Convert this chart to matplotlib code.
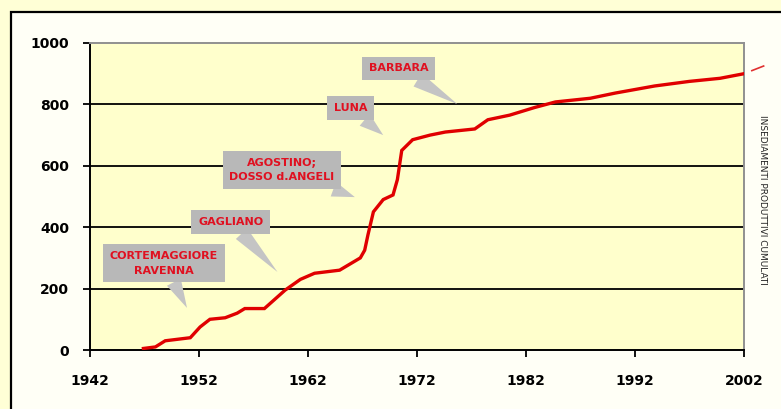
import matplotlib
matplotlib.use("Agg")
import matplotlib.pyplot as plt
from matplotlib.patches import Rectangle

# ---- data ----
years = [1946.9, 1948.0, 1948.9, 1951.2, 1952.1, 1953.0, 1954.4, 1955.5, 1956.2,
         1958.0, 1959.9, 1961.3, 1962.6, 1964.9, 1966.8, 1967.2, 1967.5, 1968.0,
         1968.9, 1969.8, 1970.2, 1970.6, 1971.6, 1973.2, 1974.6, 1977.3, 1978.5,
         1980.5, 1982.8, 1984.7, 1987.9, 1990.2, 1993.8, 1997.0, 1999.8, 2002.0]
values = [5, 10, 30, 40, 75, 100, 105, 120, 135,
          135, 195, 230, 250, 260, 300, 325, 375, 450,
          490, 505, 555, 650, 685, 700, 710, 720, 750,
          765, 790, 808, 820, 837, 860, 875, 885, 900]

x_ticks = [1942, 1952, 1962, 1972, 1982, 1992, 2002]
y_ticks = [0, 200, 400, 600, 800, 1000]

callout_labels = ["CORTEMAGGIORE\nRAVENNA", "GAGLIANO", "AGOSTINO;\nDOSSO d.ANGELI",
                  "LUNA", "BARBARA"]
# layout: (text centre, pointer tip) in data units
callout_text_pos = [(1948.8, 283), (1954.9, 417), (1959.6, 586), (1965.9, 788), (1970.3, 918)]
callout_tip_pos = [(1950.9, 137), (1959.2, 254), (1966.3, 498), (1968.9, 700), (1975.7, 801)]

side_label = "INSEDIAMENTI PRODUTTIVI CUMULATI"

W, H = 781, 409
fig = plt.figure(figsize=(W / 100, H / 100), dpi=100)
fig.patch.set_facecolor("#FFFFD6")

border = Rectangle((11 / W, -0.1), 1.2, (H - 12) / H + 0.1, transform=fig.transFigure,
                   facecolor="#FFFFF6", edgecolor="black", linewidth=1.6, zorder=-10)
fig.add_artist(border)

ax = fig.add_axes([90 / W, (H - 350) / H, 654 / W, 307 / H])
ax.set_zorder(1)
ax.set_facecolor("#FFFFCC")
ax.set_xlim(1942, 2002)
ax.set_ylim(0, 1000)

for v in y_ticks[1:-1]:
    ax.axhline(v, color="black", lw=1.3, zorder=1)

ax.plot(years, values, color="#E00000", lw=2.4, zorder=3, solid_joinstyle="miter")

ax.set_xticks(x_ticks)
ax.set_yticks(y_ticks)
tick_font = dict(family="DejaVu Sans", weight="bold", size=10)
ax.set_xticklabels([str(t) for t in x_ticks], **tick_font)
ax.set_yticklabels([str(t) for t in y_ticks], **tick_font)
ax.tick_params(axis="both", direction="out", length=5, width=1.3, colors="black")
ax.tick_params(axis="y", pad=10)
ax.tick_params(axis="x", pad=12)

for s in ["left", "bottom"]:
    ax.spines[s].set_color("black")
    ax.spines[s].set_linewidth(1.4)
for s in ["top", "right"]:
    ax.spines[s].set_color("#909090")
    ax.spines[s].set_linewidth(1.4)

for lab, tp, tip in zip(callout_labels, callout_text_pos, callout_tip_pos):
    ax.annotate(lab, xy=tip, xytext=tp, ha="center", va="center",
                color="#E01020", fontsize=8, fontweight="bold",
                family="DejaVu Sans", linespacing=1.6,
                bbox=dict(boxstyle="square,pad=0.6", fc="#B8B8B8", ec="none"),
                arrowprops=dict(arrowstyle="wedge,tail_width=1.4,shrink_factor=0.5",
                                fc="#C4C4C4", ec="none", shrinkA=0, shrinkB=0),
                zorder=5)

ax.plot([1.012, 1.03], [0.91, 0.925], transform=ax.transAxes, color="#E03030",
        lw=1.2, clip_on=False)
fig.text(762 / W, 1 - 200 / H, side_label, rotation=270, ha="center", va="center",
         fontsize=6.5, color="#222222", family="DejaVu Sans")

fig.savefig("out.png", dpi=100, facecolor=fig.get_facecolor())
